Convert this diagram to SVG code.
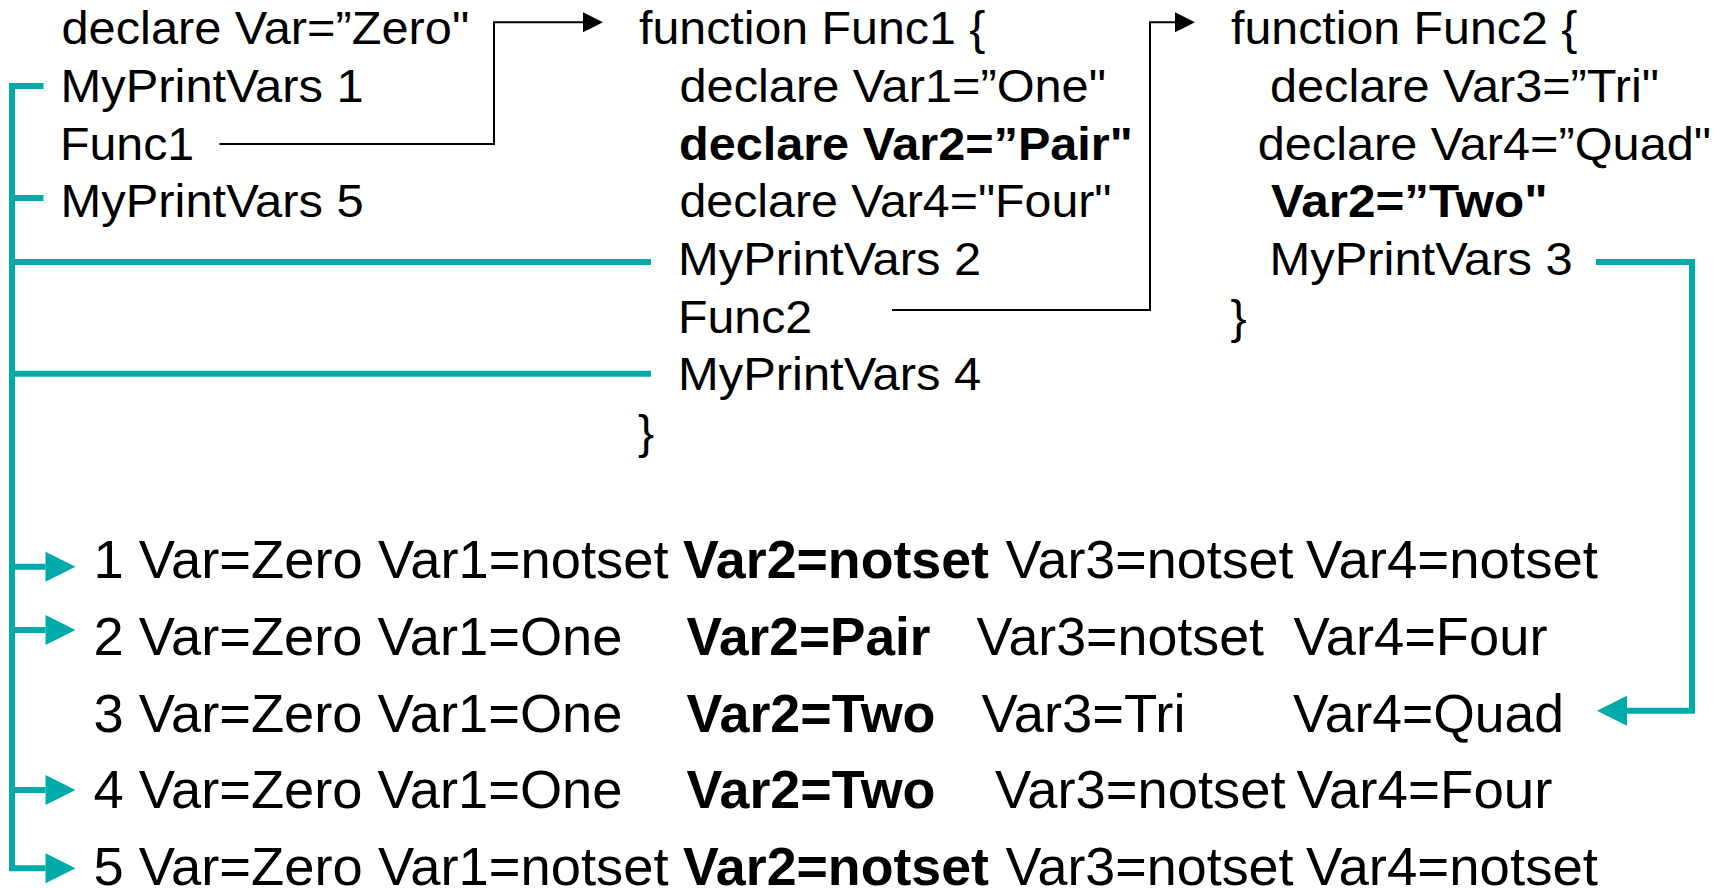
<svg xmlns="http://www.w3.org/2000/svg" width="1719" height="888" viewBox="0 0 1719 888">
<style>
.t{font-family:"Liberation Sans",Arial,sans-serif;font-size:45.8px;fill:#000}
.r{font-family:"Liberation Sans",Arial,sans-serif;font-size:53.5px;fill:#000}
.b{font-weight:bold}
.teal{fill:none;stroke:#00AAAA;stroke-width:6}
.blk{fill:none;stroke:#000;stroke-width:2}
</style>
<defs>
<marker id="ta" markerUnits="userSpaceOnUse" markerWidth="30" markerHeight="30" refX="0" refY="15" orient="auto" overflow="visible">
<path d="M0,0 L30,15 L0,30 z" fill="#00AAAA"/>
</marker>
<marker id="ba" markerUnits="userSpaceOnUse" markerWidth="20" markerHeight="20" refX="0" refY="10" orient="auto" overflow="visible">
<path d="M0,0 L20,10 L0,20 z" fill="#000"/>
</marker>
</defs>
<g id="connectors">
<path class="blk" d="M219.5,144 H494 V22.3 H583" marker-end="url(#ba)"/>
<path class="blk" d="M892,310 H1150 V22.3 H1175" marker-end="url(#ba)"/>
<path class="teal" d="M43.5,86 H12 V868.3 H45.5" marker-end="url(#ta)"/>
<path class="teal" d="M12,198 H43.5"/>
<path class="teal" d="M12,262 H651"/>
<path class="teal" d="M12,373.7 H651"/>
<path class="teal" d="M12,566.7 H45.5" marker-end="url(#ta)"/>
<path class="teal" d="M12,630 H45.5" marker-end="url(#ta)"/>
<path class="teal" d="M12,790 H45.5" marker-end="url(#ta)"/>
<path class="teal" d="M1596,262 H1692 V710.7 H1627" marker-end="url(#ta)"/>
</g>
<g id="main">
<text class="t" x="61.5" y="44.3" textLength="407.7" lengthAdjust="spacingAndGlyphs">declare Var=”Zero"</text>
<text class="t" x="60.5" y="102" textLength="303.3" lengthAdjust="spacingAndGlyphs">MyPrintVars 1</text>
<text class="t" x="60" y="159.6" textLength="134.2" lengthAdjust="spacingAndGlyphs">Func1</text>
<text class="t" x="60.5" y="217.3" textLength="303.3" lengthAdjust="spacingAndGlyphs">MyPrintVars 5</text>
</g>
<g id="func1">
<text class="t" x="639" y="44.3" textLength="346.4" lengthAdjust="spacingAndGlyphs">function Func1 {</text>
<text class="t" x="679.5" y="102" textLength="426.5" lengthAdjust="spacingAndGlyphs">declare Var1=”One"</text>
<text class="t b" x="679" y="159.6" textLength="453.8" lengthAdjust="spacingAndGlyphs">declare Var2=”Pair"</text>
<text class="t" x="679.5" y="217.3" textLength="432" lengthAdjust="spacingAndGlyphs">declare Var4="Four"</text>
<text class="t" x="678" y="274.9" textLength="303.3" lengthAdjust="spacingAndGlyphs">MyPrintVars 2</text>
<text class="t" x="678" y="332.6" textLength="134.2" lengthAdjust="spacingAndGlyphs">Func2</text>
<text class="t" x="678" y="390.2" textLength="303.3" lengthAdjust="spacingAndGlyphs">MyPrintVars 4</text>
<text class="t" x="638" y="447.8" textLength="16.1" lengthAdjust="spacingAndGlyphs">}</text>
</g>
<g id="func2">
<text class="t" x="1231" y="44.3" textLength="346.4" lengthAdjust="spacingAndGlyphs">function Func2 {</text>
<text class="t" x="1270" y="102" textLength="389" lengthAdjust="spacingAndGlyphs">declare Var3=”Tri"</text>
<text class="t" x="1257.7" y="159.6" textLength="453.4" lengthAdjust="spacingAndGlyphs">declare Var4=”Quad"</text>
<text class="t b" x="1271" y="217.3" textLength="276.6" lengthAdjust="spacingAndGlyphs">Var2=”Two"</text>
<text class="t" x="1269.5" y="274.9" textLength="303.3" lengthAdjust="spacingAndGlyphs">MyPrintVars 3</text>
<text class="t" x="1230.5" y="332.6" textLength="16.1" lengthAdjust="spacingAndGlyphs">}</text>
</g>
<g id="output">
<text class="r" y="578.3"><tspan x="93.5" textLength="575" lengthAdjust="spacingAndGlyphs">1 Var=Zero Var1=notset</tspan><tspan class="b" x="683" textLength="306" lengthAdjust="spacingAndGlyphs">Var2=notset</tspan><tspan x="1005.5" textLength="288" lengthAdjust="spacingAndGlyphs">Var3=notset</tspan><tspan x="1306" textLength="292" lengthAdjust="spacingAndGlyphs">Var4=notset</tspan></text>
<text class="r" y="655"><tspan x="93.5" textLength="529" lengthAdjust="spacingAndGlyphs">2 Var=Zero Var1=One</tspan><tspan class="b" x="686.5" textLength="244" lengthAdjust="spacingAndGlyphs">Var2=Pair</tspan><tspan x="976.5" textLength="287.5" lengthAdjust="spacingAndGlyphs">Var3=notset</tspan><tspan x="1293.5" textLength="254" lengthAdjust="spacingAndGlyphs">Var4=Four</tspan></text>
<text class="r" y="731.7"><tspan x="93.5" textLength="529" lengthAdjust="spacingAndGlyphs">3 Var=Zero Var1=One</tspan><tspan class="b" x="686.5" textLength="249" lengthAdjust="spacingAndGlyphs">Var2=Two</tspan><tspan x="981.5" textLength="204" lengthAdjust="spacingAndGlyphs">Var3=Tri</tspan><tspan x="1293" textLength="271" lengthAdjust="spacingAndGlyphs">Var4=Quad</tspan></text>
<text class="r" y="808.3"><tspan x="93.5" textLength="529" lengthAdjust="spacingAndGlyphs">4 Var=Zero Var1=One</tspan><tspan class="b" x="686.5" textLength="249" lengthAdjust="spacingAndGlyphs">Var2=Two</tspan><tspan x="995" textLength="290.5" lengthAdjust="spacingAndGlyphs">Var3=notset</tspan><tspan x="1296.5" textLength="256" lengthAdjust="spacingAndGlyphs">Var4=Four</tspan></text>
<text class="r" y="885"><tspan x="93.5" textLength="575" lengthAdjust="spacingAndGlyphs">5 Var=Zero Var1=notset</tspan><tspan class="b" x="683" textLength="306" lengthAdjust="spacingAndGlyphs">Var2=notset</tspan><tspan x="1005.5" textLength="288" lengthAdjust="spacingAndGlyphs">Var3=notset</tspan><tspan x="1306" textLength="292" lengthAdjust="spacingAndGlyphs">Var4=notset</tspan></text>
</g>
</svg>
